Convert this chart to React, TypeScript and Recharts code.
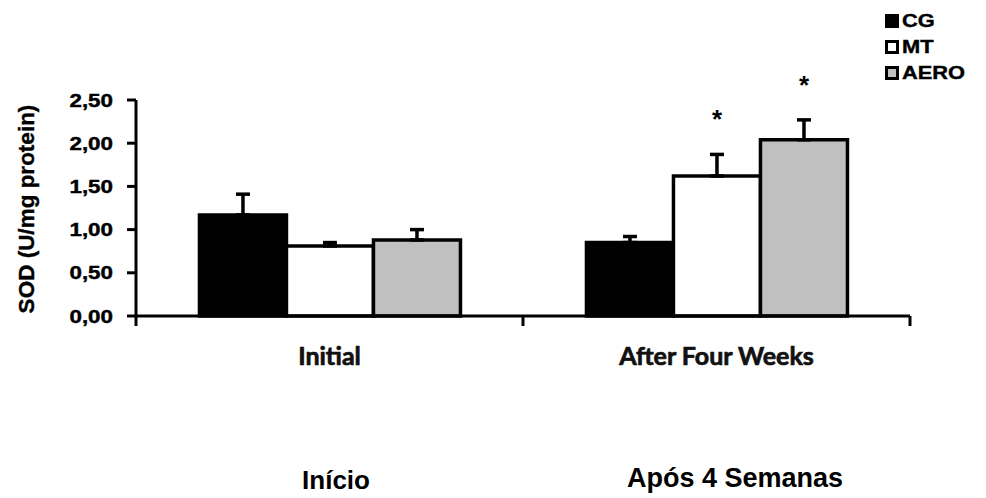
import { BarChart, Bar, XAxis, YAxis, ErrorBar, LabelList, Legend } from 'recharts';

const categories = ['Initial', 'After Four Weeks'];
const categoriesPt = ['Início', 'Após 4 Semanas'];

const cgValues = [1.17, 0.85];
const cgErrors = [0.24, 0.07];
const mtValues = [0.81, 1.62];
const mtErrors = [0.04, 0.25];
const aeroValues = [0.88, 2.04];
const aeroErrors = [0.12, 0.23];

const mtMarks = ['', '*'];
const aeroMarks = ['', '*'];

const yTicks = [0, 0.5, 1, 1.5, 2, 2.5];

const series = [
  { key: 'cg', name: 'CG', fill: '#000000' },
  { key: 'mt', name: 'MT', fill: '#ffffff' },
  { key: 'aero', name: 'AERO', fill: '#c0c0c0' },
];

const data = categories.map((period, i) => ({
  period,
  cg: cgValues[i],
  cgErr: [0, cgErrors[i]],
  mt: mtValues[i],
  mtErr: [0, mtErrors[i]],
  mtMark: mtMarks[i],
  aero: aeroValues[i],
  aeroErr: [0, aeroErrors[i]],
  aeroMark: aeroMarks[i],
}));

const W = 986;
const H = 498;
const MARGIN = { top: 100, right: 76, bottom: 122, left: 0 };
const Y_AXIS_W = 136;
const HALF_BAND = (W - MARGIN.right - MARGIN.left - Y_AXIS_W) / categories.length / 2;
const SANS = "'Liberation Sans', Arial, sans-serif";

function PeriodTick(props: any) {
  const { x, y, payload, index } = props;
  return (
    <g>
      {index === 0 && (
        <line x1={x - HALF_BAND} x2={x - HALF_BAND} y1={y} y2={y + 10} stroke="#000" strokeWidth={3} />
      )}
      <line x1={x + HALF_BAND} x2={x + HALF_BAND} y1={y} y2={y + 10} stroke="#000" strokeWidth={3} />
      <text
        x={x}
        y={y + 49}
        textAnchor="middle"
        fontFamily="Lato, sans-serif"
        fontWeight={700}
        fontSize={25}
        fill="#111"
        stroke="#111"
        strokeWidth={0.7}
      >
        {payload.value}
      </text>
    </g>
  );
}

function ValueTick(props: any) {
  const { x, y, payload } = props;
  return (
    <text
      transform={`translate(${x},${y + 6.5}) scale(1.28,1)`}
      textAnchor="end"
      fontFamily={SANS}
      fontWeight={700}
      fontSize={17.5}
      fill="#000"
      stroke="#000"
      strokeWidth={0.4}
    >
      {Number(payload.value).toFixed(2).replace('.', ',')}
    </text>
  );
}

const starLabel = (values: number[], errors: number[]) => (props: any) => {
  const vb = props.viewBox && props.viewBox.height !== undefined ? props.viewBox : props;
  const { x, y, width, height } = vb;
  const idx = props.index ?? 0;
  if (!props.value) return null;
  const perUnit = height / values[idx];
  const cy = y - errors[idx] * perUnit - 41;
  return (
    <text x={x + width / 2} y={cy + 15} textAnchor="middle" fontFamily={SANS} fontWeight={700} fontSize={26} fill="#000">
      {props.value}
    </text>
  );
};

function SeriesLegend() {
  return (
    <div style={{ display: 'flex', flexDirection: 'column' }}>
      {series.map((s) => (
        <div key={s.key} style={{ display: 'flex', alignItems: 'center', height: 26 }}>
          <span
            style={{
              width: 14,
              height: 14,
              boxSizing: 'border-box',
              border: '3.5px solid #000',
              background: s.fill,
              display: 'inline-block',
            }}
          />
          <span
            style={{
              marginLeft: 3,
              fontFamily: SANS,
              fontWeight: 700,
              fontSize: 18.5,
              lineHeight: '18px',
              display: 'inline-block',
              transform: 'scaleX(1.18)',
              transformOrigin: 'left center',
              color: '#000',
              WebkitTextStroke: '0.4px #000',
            }}
          >
            {s.name}
          </span>
        </div>
      ))}
    </div>
  );
}

export default function App() {
  return (
    <div style={{ position: 'absolute', left: 0, top: 0, width: W, height: H, background: '#fff' }}>
      <BarChart width={W} height={H} data={data} margin={MARGIN} barCategoryGap="16.4%" barGap={0}>
        <XAxis
          dataKey="period"
          axisLine={{ stroke: '#000', strokeWidth: 3 }}
          tickLine={false}
          tickSize={0}
          tickMargin={0}
          height={60}
          tick={PeriodTick}
          interval={0}
        />
        <YAxis
          width={Y_AXIS_W}
          domain={[0, 2.5]}
          ticks={yTicks}
          axisLine={{ stroke: '#000', strokeWidth: 3 }}
          tickLine={{ stroke: '#000', strokeWidth: 3 }}
          tickSize={9}
          tickMargin={14}
          tick={ValueTick}
          label={{
            content: (p: any) => {
              const vb = p.viewBox;
              const cx = vb.x + 26;
              const cy = vb.y + vb.height / 2 + 1;
              return (
                <text
                  transform={`translate(${cx},${cy}) rotate(-90)`}
                  textAnchor="middle"
                  dominantBaseline="central"
                  fontFamily={SANS}
                  fontWeight={700}
                  fontSize={22.5}
                  fill="#000"
                  stroke="#000"
                  strokeWidth={0.4}
                >
                  SOD (U/mg protein)
                </text>
              );
            },
          }}
        />
        <Legend
          layout="vertical"
          align="center"
          verticalAlign="middle"
          content={<SeriesLegend />}
          wrapperStyle={{ left: 885, top: 8, width: 100 }}
        />
        <Bar dataKey="cg" name="CG" fill="#000" stroke="#000" strokeWidth={3.5} isAnimationActive={false}>
          <ErrorBar dataKey="cgErr" direction="y" width={7} stroke="#000" strokeWidth={3.5} isAnimationActive={false} />
        </Bar>
        <Bar dataKey="mt" name="MT" fill="#fff" stroke="#000" strokeWidth={3.5} isAnimationActive={false}>
          <ErrorBar dataKey="mtErr" direction="y" width={7} stroke="#000" strokeWidth={3.5} isAnimationActive={false} />
          <LabelList dataKey="mtMark" content={starLabel(mtValues, mtErrors)} />
        </Bar>
        <Bar dataKey="aero" name="AERO" fill="#c0c0c0" stroke="#000" strokeWidth={3.5} isAnimationActive={false}>
          <ErrorBar dataKey="aeroErr" direction="y" width={7} stroke="#000" strokeWidth={3.5} isAnimationActive={false} />
          <LabelList dataKey="aeroMark" content={starLabel(aeroValues, aeroErrors)} />
        </Bar>
      </BarChart>
      <svg width={W} height={H} style={{ position: 'absolute', left: 0, top: 0, pointerEvents: 'none' }}>
        <text x={336} y={489} textAnchor="middle" fontFamily={SANS} fontWeight={700} fontSize={26} fill="#000">
          {categoriesPt[0]}
        </text>
        <text x={735} y={487} textAnchor="middle" fontFamily={SANS} fontWeight={700} fontSize={27} fill="#000">
          {categoriesPt[1]}
        </text>
      </svg>
    </div>
  );
}
